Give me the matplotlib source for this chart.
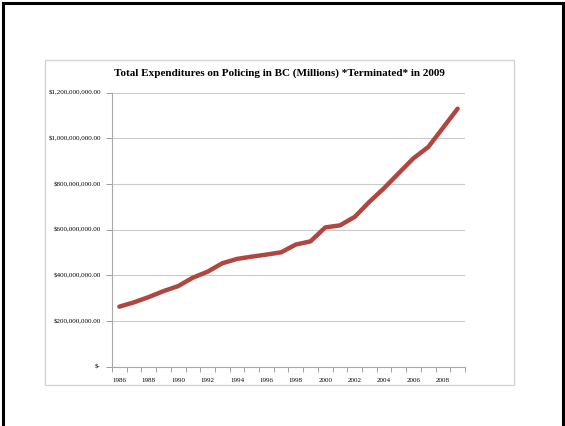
import numpy as np
import matplotlib.pyplot as plt
from matplotlib.lines import Line2D
from matplotlib.patches import Rectangle

plt.rcParams['font.family'] = ['Liberation Serif', 'DejaVu Serif']

# Policing spend per year, millions of dollars
years = list(range(1986, 2010))
spend_millions = [263, 282, 305, 331, 353, 390, 416, 453, 472, 482, 491, 501,
                  535, 549, 610, 619, 656, 722, 782, 848, 913, 962, 1046, 1130]

y_ticks = [0, 200e6, 400e6, 600e6, 800e6, 1000e6, 1200e6]
y_labels = ['$-'] + ['${:,.2f}'.format(v) for v in y_ticks[1:]]

fig = plt.figure(figsize=(5.65, 4.26), dpi=100)

# chart frame
fig.patches.append(Rectangle((45 / 565, 41 / 426), 469 / 565, 325 / 426,
                             transform=fig.transFigure, fill=False,
                             edgecolor='#d4d4d4', linewidth=1.0))
# slide border
for xs, ys in [([3 / 565, 3 / 565], [0, 423 / 426]),
               ([3 / 565, 563 / 565], [423 / 426, 423 / 426]),
               ([563 / 565, 563 / 565], [0, 423 / 426])]:
    fig.lines.append(Line2D(xs, ys, transform=fig.transFigure,
                            color='black', linewidth=2.2))

ax = fig.add_axes([112 / 565, 59.3 / 426, 353 / 565, 274 / 426])

x = np.arange(len(years))
values = np.array(spend_millions) * 1e6
ax.plot(x, values, color='#b0463f', linewidth=3.2, solid_capstyle='round')

ax.set_xlim(-0.5, len(years) - 0.5)
ax.set_ylim(0, 1200e6)

ax.set_yticks(y_ticks)
ax.set_yticklabels(y_labels)
ax.yaxis.grid(True, color='#cacaca', linewidth=0.8)
ax.set_axisbelow(True)

ax.set_xticks(x[::2])
ax.set_xticklabels([str(y) for y in years[::2]])
ax.set_xticks(np.arange(-0.5, len(years), 1), minor=True)
ax.tick_params(axis='x', which='major', length=0, pad=8, labelsize=5)
ax.tick_params(axis='x', which='minor', length=3.5, color='#a0a0a0', width=0.7)
ax.tick_params(axis='y', length=4, color='#a0a0a0', width=0.7, pad=4, labelsize=5)

for side in ['top', 'right']:
    ax.spines[side].set_visible(False)
for side in ['left', 'bottom']:
    ax.spines[side].set_color('#a8a8a8')
    ax.spines[side].set_linewidth(0.8)

fig.text(279 / 565, 1 - 73 / 426,
         'Total Expenditures on Policing in BC (Millions) *Terminated* in 2009',
         ha='center', va='center', fontsize=8.0, fontweight='bold')

fig.savefig('out.png', dpi=100)
